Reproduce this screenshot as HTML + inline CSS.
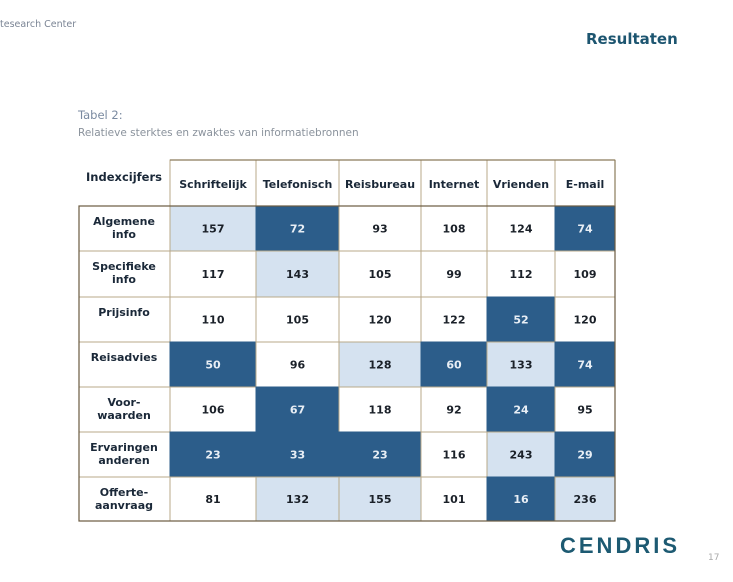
<!DOCTYPE html>
<html><head><meta charset="utf-8"><style>
html,body{margin:0;padding:0;background:#fff;width:733px;height:582px;overflow:hidden;font-family:"DejaVu Sans","Liberation Sans",sans-serif}
.a{position:absolute;white-space:nowrap}
</style></head><body>
<div class="a" style="left:0;top:19px;font-size:9.5px;color:#7a8494">tesearch Center</div>
<div class="a" style="left:586px;top:30px;font-size:15px;font-weight:bold;color:#1d5570">Resultaten</div>
<div class="a" style="left:78px;top:108px;font-size:11.5px;color:#7a8aa0">Tabel 2:</div>
<div class="a" style="left:78px;top:127px;font-size:10.5px;color:#8a929c">Relatieve sterktes en zwaktes van informatiebronnen</div>
<svg id="tbl" width="733" height="582" style="position:absolute;left:0;top:0"></svg>
<div class="a" style="left:560px;top:533px;font-size:22px;font-weight:bold;color:#1d5a72;letter-spacing:3px;font-family:'Liberation Sans',sans-serif">CENDRIS</div>
<div class="a" style="left:708px;top:553px;font-size:9px;color:#aaa">17</div>
<script>
const columns=["Schriftelijk","Telefonisch","Reisbureau","Internet","Vrienden","E-mail"];
const rowLabels=[["Algemene","info"],["Specifieke","info"],["Prijsinfo"],["Reisadvies"],["Voor-","waarden"],["Ervaringen","anderen"],["Offerte-","aanvraag"]];
const values=[[157,72,93,108,124,74],[117,143,105,99,112,109],[110,105,120,122,52,120],[50,96,128,60,133,74],[106,67,118,92,24,95],[23,33,23,116,243,29],[81,132,155,101,16,236]];
const colX=[170,256,339,421,487,555,615];
const rowY=[206,251,297,342,387,432,477,521];
const NS="http://www.w3.org/2000/svg";
const svg=document.getElementById('tbl');
function mk(t,at,txt){const e=document.createElementNS(NS,t);for(const k in at)e.setAttribute(k,at[k]);if(txt!=null)e.textContent=txt;svg.appendChild(e);return e;}
const grid="#b8a98a";
const ht=mk('text',{x:124,y:181,'text-anchor':'middle','font-size':11.5,'font-weight':'bold',fill:'#1a2838'},'Indexcijfers');


columns.forEach((c,i)=>{
  const r=mk('rect',{x:colX[i],y:160,width:colX[i+1]-colX[i],height:46,fill:'#fff',stroke:grid,'stroke-width':1});
  
  
  const t=mk('text',{x:(colX[i]+colX[i+1])/2,y:188,'text-anchor':'middle','font-size':11,'font-weight':'bold',fill:'#1a2838'},c);
  
  
});
rowLabels.forEach((lab,r)=>{
  const y0=rowY[r],y1=rowY[r+1];
  const rc=mk('rect',{x:79,y:y0,width:91,height:y1-y0,fill:'#fff',stroke:grid,'stroke-width':1});
  
  
  lab.forEach((l,k)=>{
    const t=mk('text',{x:124,y:y0+19+k*13,'text-anchor':'middle','font-size':11,'font-weight':'bold',fill:'#1a2838'},l);
    
    
  });
  values[r].forEach((v,c)=>{
    const dark=v<80, light=v>125;
    const fill=dark?'#2c5d8a':(light?'#d5e2f0':'#fff');
    const cell=mk('rect',{x:colX[c],y:y0,width:colX[c+1]-colX[c],height:y1-y0,fill:fill,stroke:dark?'#2c5d8a':grid,'stroke-width':1});
    
    
    const t=mk('text',{x:(colX[c]+colX[c+1])/2,y:(y0+y1)/2+4,'text-anchor':'middle','font-size':11,'font-weight':'bold',fill:dark?'#e8eef5':'#1a2028'},String(v));
    
    
  });
});
mk('rect',{x:79,y:206,width:536,height:315,fill:'none',stroke:'#6a5a40','stroke-width':1.2});
mk('line',{x1:170,y1:160,x2:615,y2:160,stroke:'#8a7a5a','stroke-width':1.2});
mk('line',{x1:615,y1:160,x2:615,y2:206,stroke:'#8a7a5a','stroke-width':1.2});
</script>
</body></html>
